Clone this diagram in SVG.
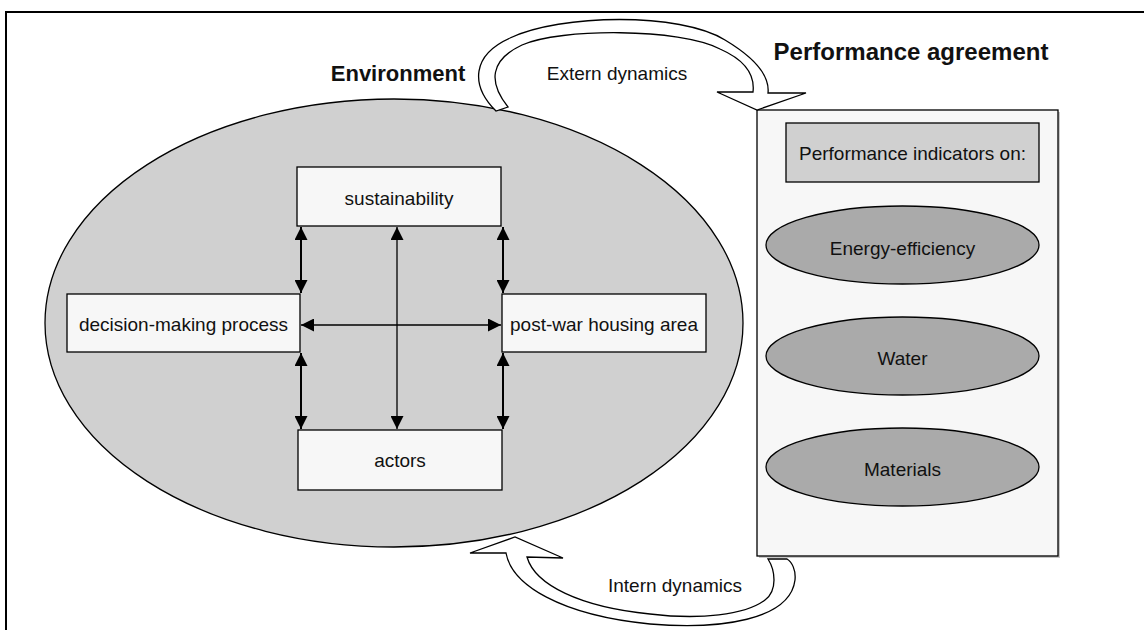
<svg xmlns="http://www.w3.org/2000/svg" width="1144" height="630" viewBox="0 0 1144 630">
  <style>
    text { font-family: "Liberation Sans", Arial, sans-serif; fill: #111; }
    .lbl { font-size: 19px; text-anchor: middle; }
    .title { font-size: 22px; font-weight: bold; }
    .box { fill: #f7f7f7; stroke: #000; stroke-width: 1.3; }
    .grey { fill: #d0d0d0; stroke: #000; stroke-width: 1.3; }
    .ind { fill: #aaaaaa; stroke: #000; stroke-width: 1.3; }
    .flow { fill: #fff; stroke: #000; stroke-width: 1.3; stroke-linejoin: miter; }
    .thick { stroke: #000; stroke-width: 2; fill: none; }
    .thin { stroke: #000; stroke-width: 1.3; fill: none; }
  </style>
  <defs>
    <marker id="head" viewBox="0 0 13 13" refX="13" refY="6.5" markerWidth="13" markerHeight="13" markerUnits="userSpaceOnUse" orient="auto-start-reverse">
      <path d="M0,0 L13,6.5 L0,13 Z" fill="#000"/>
    </marker>
  </defs>

  <rect width="1144" height="630" fill="#fff"/>
  <!-- page frame -->
  <path d="M6,630 L6,12 L1144,12" fill="none" stroke="#000" stroke-width="2"/>

  <!-- environment -->
  <g id="environment">
    <ellipse class="grey" cx="394" cy="323" rx="349" ry="224"/>
    <text class="title" x="398" y="81" text-anchor="middle">Environment</text>
  </g>

  <g id="sustainability">
    <rect class="box" x="297" y="167" width="204" height="59"/>
    <text class="lbl" x="399" y="205">sustainability</text>
  </g>
  <g id="decision-making">
    <rect class="box" x="67" y="294" width="233" height="58"/>
    <text class="lbl" x="183.5" y="331">decision-making process</text>
  </g>
  <g id="housing-area">
    <rect class="box" x="502" y="294" width="204" height="58"/>
    <text class="lbl" x="604" y="331">post-war housing area</text>
  </g>
  <g id="actors">
    <rect class="box" x="298" y="430" width="204" height="60"/>
    <text class="lbl" x="400" y="467">actors</text>
  </g>

  <!-- performance agreement panel -->
  <g id="performance-agreement">
    <rect x="759" y="112" width="301" height="446" fill="#c8c8c8"/>
    <rect class="box" x="757" y="110" width="301" height="446"/>
    <text class="title" x="911" y="60" text-anchor="middle" style="font-size:24px">Performance agreement</text>
  </g>
  <g id="indicators">
    <rect class="grey" x="786" y="123" width="253" height="59"/>
    <text class="lbl" x="912.5" y="160">Performance indicators on:</text>
  </g>
  <g id="energy">
    <ellipse class="ind" cx="902.5" cy="245" rx="136.5" ry="39"/>
    <text class="lbl" x="902.5" y="255">Energy-efficiency</text>
  </g>
  <g id="water">
    <ellipse class="ind" cx="902.5" cy="356" rx="136.5" ry="39"/>
    <text class="lbl" x="902.5" y="365">Water</text>
  </g>
  <g id="materials">
    <ellipse class="ind" cx="902.5" cy="467" rx="136.5" ry="39"/>
    <text class="lbl" x="902.5" y="476">Materials</text>
  </g>

  <!-- connectors -->
  <g id="connectors">
    <line class="thick" x1="301" y1="227" x2="301" y2="293" marker-start="url(#head)" marker-end="url(#head)"/>
    <line class="thick" x1="503" y1="227" x2="503" y2="293" marker-start="url(#head)" marker-end="url(#head)"/>
    <line class="thick" x1="301" y1="353" x2="301" y2="429" marker-start="url(#head)" marker-end="url(#head)"/>
    <line class="thick" x1="503" y1="353" x2="503" y2="429" marker-start="url(#head)" marker-end="url(#head)"/>
    <line class="thin" x1="397" y1="227" x2="397" y2="429" marker-start="url(#head)" marker-end="url(#head)"/>
    <line class="thin" x1="301" y1="325" x2="501" y2="325" marker-start="url(#head)" marker-end="url(#head)"/>

    <!-- extern dynamics: curved block arrow from the environment to the agreement -->
    <path class="flow" d="M496,111 C470,85 472,55 510,38 C560,14 680,12 725,40 C755,58 770,75 768,93 L806,93 L757,110 L717,92 L753,92 C755,75 745,60 720,49 C680,28 560,28 522,45 C490,60 488,82 508,107 Z"/>
    <text class="lbl" x="617" y="80">Extern dynamics</text>

    <!-- intern dynamics: curved block arrow from the agreement back to the environment -->
    <path class="flow" d="M506,553 C512,585 560,615 650,624 C720,630 790,620 795,580 C796,570 792,562 787,559 L768,559 C775,570 778,590 765,600 C745,615 700,620 650,614 C580,607 535,585 527,557 L563,558 L515,537 L470,553 Z"/>
    <text class="lbl" x="675" y="592">Intern dynamics</text>
  </g>
</svg>
